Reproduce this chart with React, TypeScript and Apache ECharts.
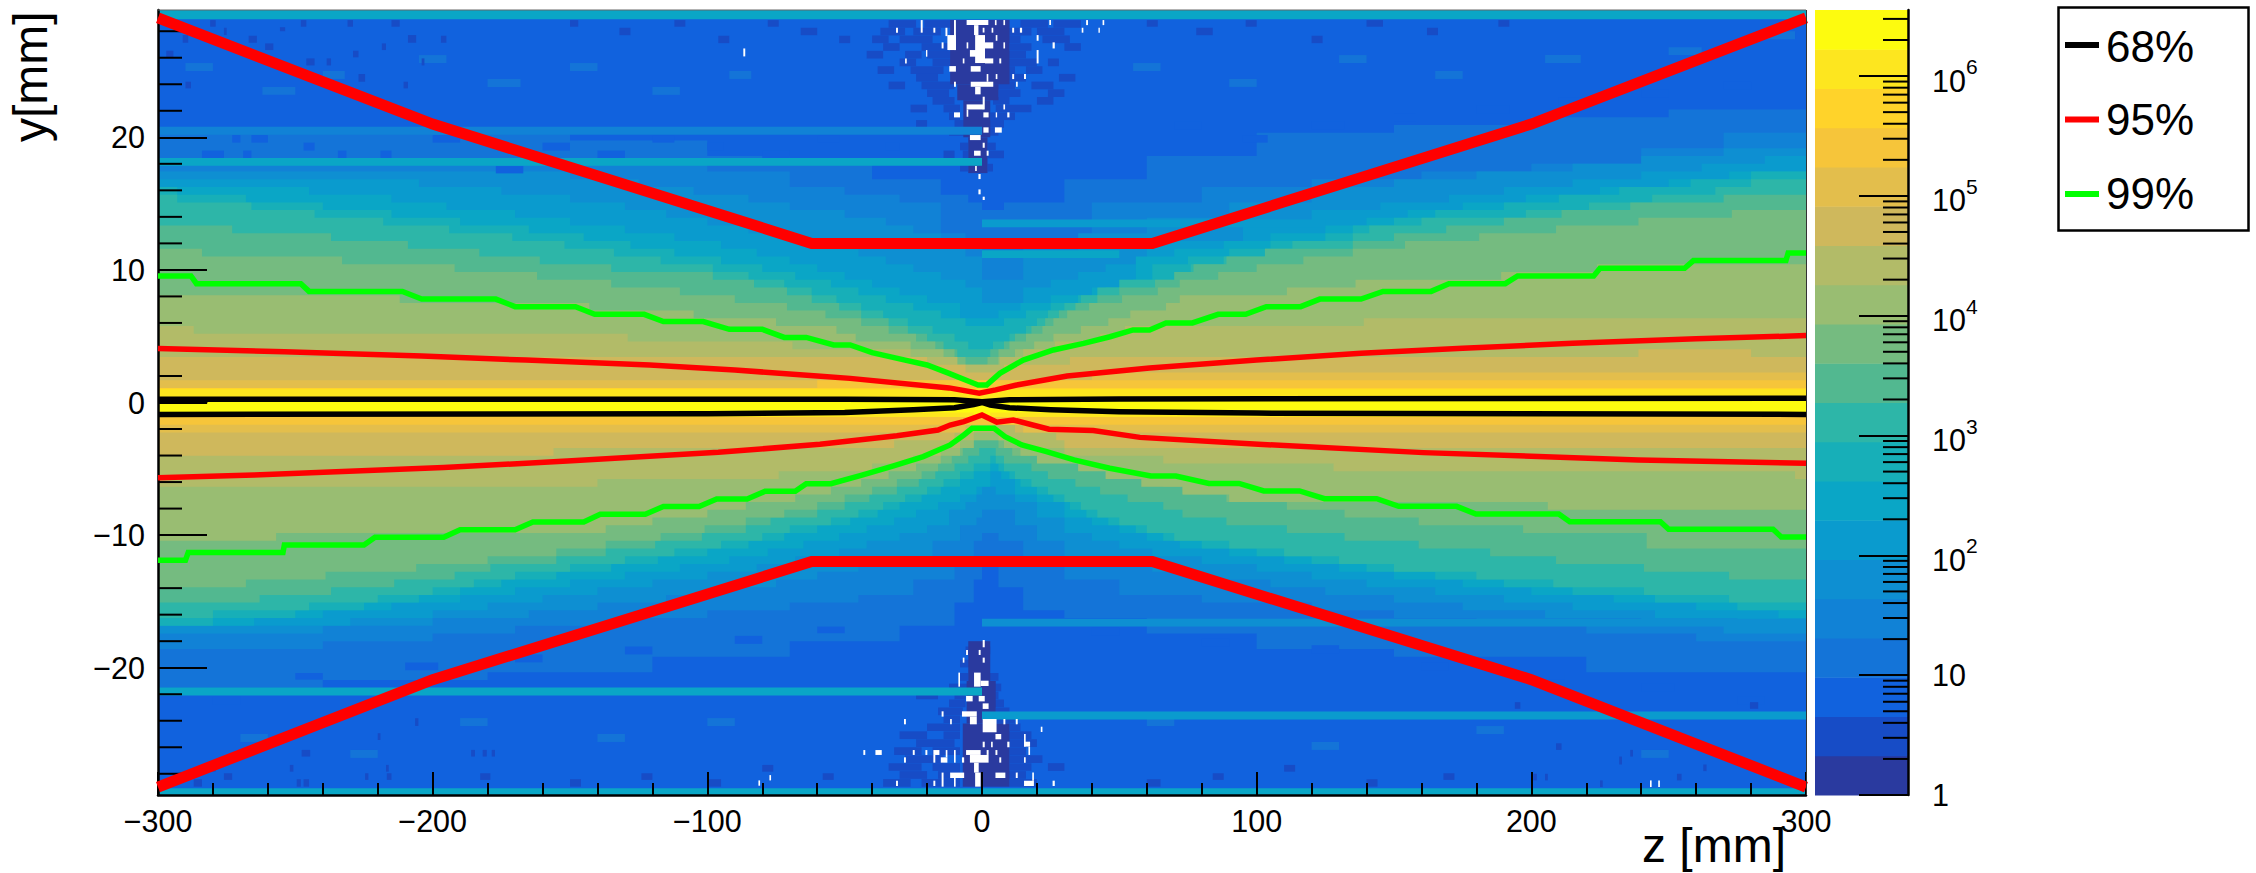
import React, { useEffect, useRef } from "react";
import * as echarts from "echarts";

// Histogram palette, colour bar from bottom (level 1) to top (level 20)
const palette = ["", "#2a3a9f", "#174cc6", "#1162de", "#1474d8", "#1182d6", "#0e8fd2", "#0a9bce", "#0aa6c6", "#17afb8", "#2db6a8",
  "#52b890", "#75bb80", "#99bd72", "#b2bb68", "#cfb85c", "#e3be4c", "#f6c53a", "#ffd32a", "#fde61f", "#fdfb0f"];
const zLimit = 300;
const yLimit = 29.6;
const colorMax = 3.56e6;

// Band outlines: [z where the step starts, bin row counted out from the beam line]
const up4: number[][] = [[-300,33],[-150,32],[-100,30],[-70,29],[-40,27],[-15,25],[-5,24],[0,23],[8,24],[30,27],[60,30],[100,33],[150,34],[200,35],[250,36],[300,38]];
const lo4: number[][] = [[-300,35],[-240,34],[-180,33],[-120,31],[-70,29],[-30,27],[-10,24],[-3,21],[0,19],[6,22],[15,25],[30,26],[60,28],[100,30],[150,31],[220,33],[300,36]];
const up5: number[][] = [[-300,29],[-100,28],[-70,26],[-50,25],[-30,24],[-15,20],[-6,19],[0,17],[5,17],[15,19],[40,24],[80,26],[120,27],[160,28],[200,29],[240,31],[270,33],[300,34]];
const lo5: number[][] = [[-300,30],[-240,29],[-200,28],[-170,27],[-130,26],[-100,25],[-70,24],[-45,23],[-25,21],[-10,19],[-3,16],[0,15],[6,16],[15,19],[30,21],[50,23],[80,24],[120,25],[150,26],[180,27],[220,28],[260,29],[300,30]];
const up6: number[][] = [[-300,28],[-150,27],[-125,26],[-105,25],[-85,24],[-70,23],[-50,22],[-35,21],[-25,20],[-15,18],[-6,17],[0,14],[4,14],[15,17],[35,20],[60,22],[90,24],[120,26],[150,27],[180,28],[215,29],[240,30],[270,31],[300,32]];
const lo6: number[][] = [[-300,28],[-240,27],[-200,26],[-165,25],[-140,24],[-115,23],[-95,22],[-75,21],[-60,20],[-45,19],[-30,18],[-18,16],[-8,14],[-2,13],[0,12],[5,12],[12,14],[20,16],[30,18],[45,19],[62,20],[80,21],[105,22],[125,23],[150,24],[175,25],[205,26],[240,27],[270,28]];
const up7: number[][] = [[-300,27],[-205,26],[-175,25],[-150,24],[-130,23],[-115,22],[-100,21],[-85,20],[-70,19],[-55,18],[-45,17],[-35,16],[-25,15],[-15,14],[-6,13],[0,11],[5,11],[15,13],[25,14],[35,15],[45,16],[60,19],[95,21],[120,23],[145,24],[170,25],[190,26],[215,27],[240,28],[262,29],[285,30]];
const lo7: number[][] = [[-300,27],[-230,26],[-200,25],[-180,24],[-160,23],[-140,22],[-120,21],[-100,20],[-82,19],[-68,18],[-52,17],[-42,16],[-30,15],[-20,14],[-12,12],[-6,11],[-2,10],[0,9],[5,10],[12,11],[20,13],[30,15],[40,16],[50,17],[62,18],[80,19],[100,20],[120,21],[140,22],[165,23],[190,24],[215,25],[245,26],[275,27]];
const up8: number[][] = [[-300,26],[-245,25],[-215,24],[-195,23],[-170,22],[-150,21],[-130,20],[-112,19],[-95,18],[-82,17],[-70,16],[-60,15],[-50,14],[-40,13],[-30,12],[-20,11],[-8,9],[6,10],[14,11],[25,12],[40,13],[50,14],[56,17],[70,18],[88,19],[105,20],[125,21],[140,22],[155,23],[175,24],[198,25],[225,26],[250,27],[272,28]];
const lo8: number[][] = [[-300,27],[-265,26],[-240,25],[-215,24],[-190,23],[-170,22],[-150,21],[-130,20],[-110,19],[-92,18],[-78,17],[-65,16],[-52,15],[-42,14],[-32,13],[-24,12],[-16,11],[-8,10],[-2,9],[3,7],[7,8],[12,10],[20,11],[30,13],[40,14],[50,15],[60,16],[72,17],[90,18],[110,19],[130,20],[150,21],[175,22],[200,23],[230,24],[260,25],[290,26]];
const up9: number[][] = [[-300,26],[-293,25],[-268,24],[-240,23],[-215,22],[-190,21],[-165,20],[-145,19],[-128,18],[-112,17],[-95,16],[-80,15],[-68,14],[-55,13],[-45,12],[-35,11],[-25,10],[-15,9],[-6,8],[8,9],[16,10],[25,11],[35,12],[45,13],[55,14],[62,16],[75,17],[90,18],[105,19],[125,20],[135,21],[150,22],[165,23],[190,24],[210,25],[232,26],[258,27],[280,28]];
const lo9: number[][] = [[-300,27],[-280,26],[-250,25],[-225,24],[-205,23],[-190,22],[-175,21],[-155,20],[-135,19],[-118,18],[-100,17],[-85,16],[-72,15],[-60,14],[-48,13],[-38,12],[-30,11],[-22,10],[-15,9],[-8,8],[-3,7],[3,6],[6,7],[10,8],[14,9],[20,10],[26,11],[32,12],[38,13],[46,14],[56,15],[66,16],[80,17],[100,18],[120,19],[140,20],[165,21],[190,22],[215,23],[245,24],[275,25]];
const up10: number[][] = [[-300,25],[-293,24],[-266,23],[-243,22],[-218,21],[-194,20],[-171,19],[-152,18],[-134,17],[-117,16],[-98,15],[-85,14],[-72,13],[-62,12],[-53,11],[-44,10],[-36,9],[-27,8],[-18,7],[-10,6],[-5,5],[4,6],[10,7],[16,8],[20,9],[24,10],[30,11],[36,12],[42,13],[50,14],[70,15],[76,16],[88,17],[103,18],[113,19],[135,20],[141,21],[160,22],[198,23],[221,24],[244,25],[267,26],[280,27]];
const lo10: number[][] = [[-300,26],[-280,25],[-245,24],[-220,23],[-200,22],[-185,21],[-170,20],[-150,19],[-130,18],[-112,17],[-95,16],[-80,15],[-70,14],[-55,13],[-45,12],[-36,11],[-28,10],[-20,9],[-14,8],[-8,7],[-3,6],[3,5],[5,6],[8,7],[12,8],[18,9],[24,10],[30,11],[36,12],[42,13],[50,14],[60,15],[70,16],[90,17],[110,18],[130,19],[150,20],[180,21],[208,22],[241,23],[272,24]];
const up11: number[][] = [[-300,21],[-273,20],[-237,19],[-209,18],[-183,17],[-161,16],[-135,15],[-98,14],[-83,13],[-71,12],[-62,11],[-52,10],[-44,9],[-34,8],[-27,7],[-20,6],[-14,5],[-9,4],[3,5],[8,6],[12,7],[18,8],[23,9],[28,10],[34,11],[42,12],[50,13],[63,14],[70,15],[77,16],[89,17],[103,18],[135,19],[150,20],[169,21],[190,22],[211,23],[236,24],[270,25]];
const lo11: number[][] = [[-300,24],[-263,23],[-237,22],[-214,21],[-192,20],[-179,19],[-155,18],[-137,17],[-119,16],[-102,15],[-86,14],[-77,13],[-60,12],[-50,11],[-41,10],[-31,9],[-23,8],[-17,7],[-10,6],[-5,5],[-1,4],[5,5],[8,6],[18,7],[24,8],[34,9],[43,10],[53,11],[66,12],[73,13],[89,14],[111,15],[132,16],[159,17],[185,18],[209,19],[241,20],[272,21]];
const up12: number[][] = [[-300,18],[-284,17],[-233,16],[-192,15],[-162,14],[-135,13],[-110,12],[-90,11],[-71,10],[-57,9],[-44,8],[-34,7],[-24,6],[-17,5],[-10,4],[-6,3],[2,4],[6,5],[10,6],[16,7],[22,8],[26,9],[31,10],[39,11],[51,12],[64,13],[72,14],[86,15],[100,16],[117,17],[135,18],[154,19],[181,20],[209,21],[239,22],[273,23]];
const lo12: number[][] = [[-300,22],[-268,21],[-239,20],[-206,19],[-180,18],[-155,17],[-137,16],[-117,15],[-101,14],[-86,13],[-72,12],[-60,11],[-50,10],[-40,9],[-31,8],[-22,7],[-16,6],[-11,5],[-7,4],[-3,3],[6,4],[11,5],[34,6],[45,7],[53,8],[66,9],[73,10],[89,11],[111,12],[132,13],[159,14],[197,15],[242,17]];
const up13: number[][] = [[-300,12],[-212,11],[-143,10],[-105,9],[-75,8],[-53,7],[-46,6],[-26,5],[-14,4],[-9,3],[6,4],[12,5],[19,6],[26,7],[36,8],[46,9],[54,10],[67,11],[72,12],[111,13],[136,14],[189,15],[224,16]];
const lo13: number[][] = [[-300,16],[-257,15],[-137,14],[-120,13],[-100,12],[-86,11],[-68,10],[-55,9],[-44,8],[-34,7],[-24,6],[-15,5],[-8,4],[-3,3],[8,4],[14,5],[20,6],[35,7],[45,8],[58,9],[73,10],[90,11],[206,12]];
const up14: number[][] = [[-300,8],[-287,7],[-129,6],[-69,5],[-26,4],[-9,3],[6.5,4],[15,5],[26.5,6],[43,7],[52,8],[139,9]];
const lo14: number[][] = [[-300,9],[-140,8],[-74,7],[-40,6],[-25,5],[-15,4],[-8,3],[-3,2],[6,3],[14,4],[30,5],[66,6],[128,7],[296,8]];
const up15: number[][] = [[-300,4],[-20,3],[-6,2],[8,3],[32,4],[239,5],[280,4]];
const lo15: number[][] = [[-300,5],[-156,4],[-32,3],[-10,2],[-3,1],[3,1],[12,2],[27,3],[30,4]];
const up16: number[][] = [[-300,1],[40,2]];
const lo16: number[][] = [[-300,2],[-20,2],[-6,1],[5,1],[15,2]];
const up17: number[][] = [[-300,0],[-60,1]];
const lo17: number[][] = [[-300,1]];
const up18: number[][] = [[-300,0]];
const lo18: number[][] = [[-300,0]];

// Single rows and patches: [z from, z to, y from, y to, colour level]
const streakRows: number[][] = [
  [-300, 300, 28.9, 29.6, 8], [-300, 300, -29.6, -29.1, 8], [-300, 0, 17.86, 18.44, 8], [-300, 0, 20.2, 20.8, 5],
  [-300, 0, -22.1, -21.5, 8], [0, 300, -23.9, -23.3, 7], [0, 300, -16.9, -16.3, 6], [0, 125, 13.21, 13.81, 7], [0, 50, 10.9, 11.48, 8],
];
const coreDark: number[][] = [
  [-11.6, 10, 24, 28.84, 1], [-9, 6, 22.8, 24, 1], [-6.8, 3, 20, 22.8, 1], [-5, 2, 17.3, 20, 1],
  [-7, 10, -28.97, -24.2, 1], [-5.6, 5, -24.2, -21, 1], [-5, 3, -21, -18, 1],
];
// Mottled rows around the central column: [row top y, z from, z to, z from, z to ...]
const mottleTop: number[][] = [
  [28.84,-34,-24,-21,-11,3,10,14,24,26,36],[28.26,-37,-28,-25,-15,8,18,20,30],[27.68,-40,-34,-30,-18,6,14,22,32],[27.1,-36,-30,-22,-12,10,18,30,36],
  [26.52,-42,-36,-28,-22,-20,-11,6,16],[25.94,-30,-24,-18,-11,8,20,24,28],[25.36,-38,-32,-26,-14,4,12,16,22],[24.78,-24,-16,6,16,28,34],
  [24.2,-34,-28,-22,-10,3,12,18,26],[23.62,-20,-12,6,14,24,30],[23.04,-18,-10,4,10,20,26],[22.46,-26,-20,-14,-8,5,18],
  [21.88,-12,-8,3,12],[21.3,-24,-20,-10,-6,2,8],[20.7,-12,-6,2,6],[19.6,-8,-5,2,5],[19,-14,-10,-7,-5,2,8],[18,-8,-5,2,4],
];
const mottleBottom: number[][] = [
  [-28.4,-36,-26,-22,-8,10,20],[-27.8,-30,-20,-16,-8,8,16],[-27.2,-34,-22,-18,-8,10,18,24,30],[-26.6,-28,-14,10,22],
  [-26,-32,-22,-18,-8,10,16],[-25.4,-24,-10,9,20],[-24.8,-30,-20,-14,-8,9,18],[-24.2,-20,-8,10,14],[-23.6,-14,-8,5,12],
  [-23,-16,-7,5,10],[-22.4,-12,-6,3,8],[-21.8,-24,-16,-10,-6,3,6],[-21.2,-12,-5,3,7],[-20.4,-8,-5,2,6],[-19.4,-8,-4],[-18.4,-6,-3,1,3],
];
const darkCells: number[][] = [
  [-281,-279,28.34,28.84], [-276,-275,27.71,28.26], [-267,-264,27.13,27.66], [-261,-258,26.58,27.08], [-255.6,-253.7,28,28.3], [-248,-246,28.34,28.84],
  [-231,-229,28.34,28.84], [-215,-212,28.34,28.84], [-246,-243,25.42,25.95], [-238.6,-237,25.42,25.95], [-229,-227,26.03,26.53], [-218.5,-217,26.58,27.08],
  [-204,-203,25.42,25.95], [-197,-195,27.13,27.66], [-209,-206,27.13,27.71], [-227,-224.6,24.19,24.77], [-210.6,-209,23.69,24.19], [-290,-288,23.69,24.19],
  [-291,-289,27.13,27.71], [-297,-294.4,26.03,26.53], [-276,-273,-28.46,-27.96], [-224.6,-223.4,-28.46,-27.96], [-216.7,-215,-28.46,-27.96], [-182.7,-179,-28.46,-27.96],
  [-281.7,-279,-27.84,-27.33], [-252,-250.7,-27.84,-27.33], [-217,-216,-27.84,-27.33], [-186,-184.6,-26.7,-26.2], [-181.8,-180.3,-26.7,-26.2], [-178.5,-177.3,-26.7,-26.2],
  [-247.7,-244.6,-26.7,-26.2], [-220,-219,-25.45,-24.94], [-206.4,-205.2,-24.39,-23.81], [-249.5,-248,-28.97,-28.41], [-247,-245,-28.97,-28.41], [-287,-284,-28.97,-28.41],
  [194,196,-23.1,-22.6], [279.6,282.6,-23.1,-22.6], [225,226,-29,-28.5], [253,254.7,-28.5,-28], [236,237,-26.7,-26.2], [232,233,-27.3,-26.7],
  [209,211,-26.2,-25.7], [205,206,-28.5,-28], [200.7,202,-28.5,-28], [262.6,263.8,-27.8,-27.3],
  [-150,-147,28.34,28.84], [-132,-128,27.7,28.26], [-112,-108,28.34,28.84], [-96,-92,27.1,27.66], [-78,-74,28.34,28.84], [-66,-60,27.7,28.26], [-52,-48,27.1,27.66],
  [60,64,28.34,28.84], [78,84,27.7,28.26], [96,100,28.34,28.84], [120,124,27.1,27.66], [140,146,28.34,28.84], [162,166,27.7,28.26], [188,192,28.34,28.84],
  [-150,-146,-28.97,-28.41], [-124,-120,-28.46,-27.96], [-100,-95,-28.97,-28.41], [-80,-76,-27.84,-27.33], [-58,-54,-28.46,-27.96], [60,65,-28.97,-28.41], [84,88,-28.46,-27.96], [110,114,-27.84,-27.33], [140,144,-28.97,-28.41], [168,172,-28.46,-27.96],
];
// Speckle: bins one level off the surrounding band
const speckle3: number[][] = [
  [-273,-270,19.6,20.17],[-266,-260,19.6,20.17],[-284,-276,18.44,19],[-269,-266,18.44,19],[-247,-243,19,19.6],[-234.5,-231.4,18.44,19],[-219,-215,18.44,19],[-177,-167,17.28,17.83],
  [-200,-190,19.6,20.17],[-160,-150,19,19.6],[-140,-130,18.44,19],[-120,-112,19.6,20.17],[-100,-94,19,19.6],[-80,-70,18.44,19],[-60,-52,19.6,20.17],[-35,-30,19,19.6],
  [70,80,20.6,21.2],[95,104,19.6,20.17],[120,132,20.6,21.2],[150,158,21.2,21.8],[180,192,21.8,22.4],[210,220,22.4,23],[240,250,23,23.6],[270,280,23.6,24.2],
  [-280,-270,-22.8,-22.2],[-250,-240,-20.9,-20.4],[-210,-198,-20.2,-19.6],[-170,-160,-19.6,-19],[-130,-120,-19,-18.4],[-90,-80,-18.2,-17.6],[-60,-50,-17.4,-16.9],
  [40,50,-17.6,-17],[80,90,-18.4,-17.8],[120,130,-18.9,-18.3],[160,170,-20.2,-19.6],[200,212,-20.9,-20.4],[240,252,-21.8,-21.2],[275,285,-22.8,-22.2],
];
const speckle4: number[][] = [
  [-290,-280,25,25.6],[-262,-250,23.2,23.8],[-240,-232,24.4,25],[-205,-195,25.6,26.2],[-180,-168,23.8,24.4],[-150,-140,25,25.6],[-120,-110,23.2,23.8],[-92,-84,24.4,25],
  [55,65,25,25.6],[90,100,23.8,24.4],[130,140,25.6,26.2],[165,175,24.4,25],[205,218,25.6,26.2],[250,262,26.2,26.8],[284,296,27.4,28],
  [-270,-260,-25.6,-25],[-230,-220,-26.8,-26.2],[-190,-180,-24.4,-23.8],[-140,-130,-25.6,-25],[-100,-90,-24.4,-23.8],[60,70,-24.4,-23.8],[120,130,-26.2,-25.6],[180,190,-25,-24.4],[240,250,-26.8,-26.2],
];
const whiteCells: number[][] = [
  [-22.3,-21.6,27.89,28.84],[-31.3,-30.6,27.89,28.26],[-17.7,-17,27.89,28.26],[-13.3,-12.6,27.63,28.26],[-10.2,-9.5,26.58,28.84],[-12.6,-9.5,26.58,27.71],[-14.7,-14,26.7,27.16],
  [-5.6,2.3,28.46,28.84],[-2.9,-1.3,27.71,28.46],[3.5,4.1,27.89,28.26],[4.7,5.3,28.46,28.84],[7.8,8.4,28.46,28.84],[0.25,0.9,27.9,28.26],[-2.5,1.1,25.6,27.71],[1.1,4.1,26.7,27.16],
  [-5.6,-5,26.7,27.16],[7.8,8.4,26.7,27.16],[5,5.6,27.28,27.71],[11,11.7,27.89,28.26],[13.8,14.6,27.89,28.26],[19.9,20.6,27.28,27.71],[25.7,26.5,26.7,27.16],[24.5,25.1,28.46,28.84],
  [37.9,38.6,28.46,28.84],[36.3,36.9,27.89,28.26],[42.4,42.9,27.89,28.26],[43.9,44.5,28.46,28.84],[-4.4,-0.5,26.08,26.58],[1.1,4.1,25.57,25.95],[6.3,7,25.57,25.95],[-7,-6.4,25.57,25.95],
  [19.9,20.6,25.57,26.58],[-20.4,-19.9,26.08,26.58],[-28,-27.4,25.57,25.95],[-11.9,-9.5,24.95,25.37],[-4.1,-0.5,24.95,25.37],[-10.2,-9.5,23.81,24.19],[-4.1,4.1,23.81,24.19],[-2.5,-0.5,23.24,23.81],
  [1.7,2.3,24.19,24.77],[5,5.6,24.39,24.77],[11,11.7,24.39,24.77],[15.3,16,24.39,24.77],[12.4,13,23.81,24.19],[0.25,1,22.1,23.06],[-5.6,0.5,22.1,22.48],[-5.6,-5,21.55,22.1],[-10.2,-8,21.5,21.88],
  [0.5,2.4,21.5,21.88],[5,5.5,21.5,21.88],[9.2,10,21.5,21.88],[7.8,8.4,22.1,22.48],[0.5,2.4,20.35,20.75],[4.7,7.2,20.35,20.75],[-4.4,-0.5,19.79,20.17],[0.25,1,19.21,19.59],[-2.9,-0.5,18.61,18.99],
  [1.7,2.4,18.61,18.99],[-2.5,-1.9,17.45,17.83],[-1.3,-0.5,16.85,17.23],[-1.3,-0.5,15.7,16.07],[0.25,1,15.27,15.52],[-86.9,-86.2,26.1,26.7],
  [-5.8,-5.1,-19.04,-18.66],[-1.2,-0.5,-19.04,-18.66],[-7,-6.4,-19.62,-19.24],[0.25,1,-19.62,-19.24],[0.25,1,-18.46,-17.91],[-8.6,-8,-21.43,-20.37],[-2.9,-0.5,-21.43,-20.37],[-0.5,2.4,-21.38,-20.98],
  [-5.8,-3.4,-22.54,-22.13],[-1.2,1,-22.54,-22.13],[0.25,2.4,-23.11,-22.69],[-14.7,-14,-23.69,-23.29],[-7.3,-1.9,-23.69,-23.29],[-4.4,-1.9,-24.27,-23.69],[-11.6,-11,-24.27,-23.87],[-28.4,-27.7,-24.27,-23.87],
  [0.25,5.3,-24.87,-23.87],[7.8,8.5,-24.27,-23.87],[12.3,13,-24.27,-23.87],[21.4,22,-24.85,-24.45],[4.9,7,-25.4,-25],[15.3,15.9,-25.95,-25],[15.3,17.5,-25.95,-25.58],[16.9,17.5,-26.58,-25.95],
  [0.25,1,-26,-25.58],[3.3,3.9,-26,-25.58],[9.2,10,-26,-25.58],[-43.2,-42.5,-26.58,-26.21],[-38.8,-36.5,-26.58,-26.21],[-25.2,-24.5,-26.58,-26.21],[-20.6,-19.9,-26.58,-26.21],[-17.7,-15.5,-26.58,-26.21],
  [-17.7,-17,-27.16,-26.58],[-15,-12.6,-27.16,-26.76],[-13.2,-12.6,-26.76,-26.21],[-10.2,-9.6,-27.16,-26.21],[-7.3,-6.5,-27.16,-26.76],[-5.8,-0.5,-26.58,-26.21],[-4.4,2.4,-27.16,-26.58],[1.7,2.4,-26.58,-26.21],
  [4.9,5.6,-26.58,-26.21],[6.3,7,-27.16,-26.76],[15.3,15.9,-27.16,-26.76],[-28.4,-27.7,-27.16,-26.76],[-2.9,-1.2,-27.91,-27.16],[-2.5,-0.5,-28.97,-27.91],[-14.7,-14,-28.97,-27.91],[-11.6,-6.5,-28.32,-27.91],
  [-10.2,-9.6,-28.97,-28.32],[4.9,8.5,-28.32,-27.91],[12.3,13,-28.32,-27.91],[15.3,18.9,-28.92,-28.52],[18.3,18.9,-28.52,-27.91],[-31.3,-30.6,-28.92,-28.52],[-17.7,-17,-28.92,-28.52],[25.7,26.5,-28.92,-28.52],
  [243.2,243.8,-29,-28.5],[246.2,246.8,-29,-28.5],[-77.4,-76.8,-28.5,-28.1],[-81.4,-80.8,-28.9,-28.5],
];
const corePatches: number[][] = [[-300, 300, -1.1, 1.0, 19], [-300, 300, -0.75, 0.3, 20], [-3, 3, -1.05, -0.2, 20]];
const blackStep: number[][] = [[-300, -282, -0.05, 0.35]];

// Contour lines
const red95Outer1: number[][] = [[-300,29],[-200,21],[-62,12],[62,12],[200,21],[300,29]];
const red95Outer2: number[][] = [[-300,-29],[-200,-20.9],[-62,-12],[62,-12],[200,-20.9],[300,-29]];
const red95Up: number[][] = [[-300,4.08],[-254,3.83],[-204,3.5],[-166,3.2],[-121,2.83],[-90,2.45],[-60,2.0],[-48,1.82],[-12,1.1],[-1,0.7],[5,0.95],[12.6,1.32],[31,2],[61,2.6],[100,3.2],[138,3.71],[175,4.1],[215,4.46],[260,4.8],[300,5.05]];
const red95Low: number[][] = [[-300,-5.67],[-265,-5.47],[-196,-4.91],[-151,-4.41],[-96,-3.76],[-59,-3.15],[-31,-2.5],[-16,-2.07],[-11.6,-1.7],[-6.6,-1.44],[0,-0.94],[5.4,-1.49],[11.4,-1.32],[24.4,-2.02],[40.5,-2.12],[57.5,-2.63],[100.6,-3.15],[160.7,-3.78],[239,-4.33],[300,-4.59]];
const greenUp: number[][] = [[-300,9.54],[-288,9.54],[-286,8.96],[-248,8.96],[-245,8.38],[-211,8.38],[-204,7.8],[-177,7.8],[-170,7.23],[-148,7.23],[-141,6.65],[-123,6.65],[-116,6.1],[-101.5,6.1],[-92,5.52],[-80,5.52],[-72,4.91],[-64,4.91],[-54,4.34],[-48,4.34],[-40,3.76],[-28,3.2],[-20,2.83],[-12,2.2],[-4.4,1.57],[-1.4,1.32],[1.7,1.32],[6.5,2.2],[15,3.2],[26,3.96],[37,4.46],[46.6,4.96],[55,5.47],[61,5.47],[67,6],[76.6,6],[86,6.65],[96,6.65],[103.5,7.23],[116,7.23],[123,7.8],[138,7.8],[146,8.38],[163.5,8.38],[170,8.96],[190.5,8.96],[195,9.54],[222.7,9.54],[225,10.12],[255.8,10.12],[259,10.7],[292.7,10.7],[293.5,11.27],[300,11.27]];
const greenLow: number[][] = [[-300,-11.9],[-290,-11.9],[-289,-11.32],[-254.5,-11.32],[-254,-10.75],[-225,-10.75],[-221,-10.17],[-196,-10.17],[-190,-9.59],[-170,-9.59],[-163.5,-9.01],[-145,-9.01],[-139,-8.43],[-122.6,-8.43],[-116,-7.85],[-103,-7.85],[-96.6,-7.28],[-85.5,-7.28],[-79,-6.7],[-68,-6.7],[-64,-6.12],[-55,-6.12],[-43.7,-5.47],[-32.5,-4.79],[-21.4,-4.08],[-11.6,-3.2],[-6.6,-2.45],[-3.6,-1.95],[4.4,-1.95],[8.4,-2.58],[14.5,-3.2],[23.5,-3.7],[33.5,-4.33],[46.5,-4.96],[61.5,-5.54],[70.6,-5.54],[82.6,-6.1],[93.6,-6.1],[102.6,-6.67],[115.6,-6.67],[124.7,-7.25],[143.7,-7.25],[151.7,-7.83],[172.8,-7.83],[179.8,-8.41],[210,-8.41],[214,-8.99],[247,-8.99],[250,-9.56],[288,-9.56],[291,-10.14],[300,-10.14]];
const black68Up: number[][] = [[-300,0.25],[-50,0.25],[-10,0.2],[0,0.05],[10,0.2],[50,0.27],[300,0.32]];
const black68Low: number[][] = [[-300,-0.9],[-100,-0.85],[-50,-0.75],[-25,-0.55],[-10,-0.4],[-3,-0.15],[0,0],[3,-0.2],[10,-0.4],[25,-0.55],[50,-0.7],[100,-0.8],[300,-0.9]];

// Axis ticks
const yMajor = [-20, -10, 0, 10, 20];
const yMinor = [-28, -26, -24, -22, -18, -16, -14, -12, -8, -6, -4, -2, 2, 4, 6, 8, 12, 14, 16, 18, 22, 24, 26, 28];
const cbMajor = [1, 10, 100, 1000, 10000, 100000, 1000000];
const cbMinor = [2,3,4,5,6,7,8,9,20,30,40,50,60,70,80,90,200,300,400,500,600,700,800,900,2e3,3e3,4e3,5e3,6e3,7e3,8e3,9e3,2e4,3e4,4e4,5e4,6e4,7e4,8e4,9e4,2e5,3e5,4e5,5e5,6e5,7e5,8e5,9e5,2e6,3e6];
const legendEntries = ["68%", "95%", "99%"];
const legendColors = ["#000000", "#ff0000", "#00ff00"];

const bands: [number, number[][], number[][]][] = [
  [4, up4, lo4], [5, up5, lo5], [6, up6, lo6], [7, up7, lo7], [8, up8, lo8], [9, up9, lo9], [10, up10, lo10], [11, up11, lo11],
  [12, up12, lo12], [13, up13, lo13], [14, up14, lo14], [15, up15, lo15], [16, up16, lo16], [17, up17, lo17], [18, up18, lo18],
];
const rowEdge = (k: number) => 1.1 + 0.583 * k;
const outline = (steps: number[][], sign: number) => {
  const pts: number[][] = [];
  steps.forEach((s, i) => {
    const end = i + 1 < steps.length ? steps[i + 1][0] : zLimit;
    pts.push([s[0], sign * rowEdge(s[1])], [end, sign * rowEdge(s[1])]);
  });
  return pts;
};
const bandPolys = bands.map(([level, up, lo]) => ({ level, pts: [...outline(up, 1), ...outline(lo, -1).reverse()] }));
const rowsToCells = (rows: number[][]) => rows.flatMap((r) => {
  const out: number[][] = [];
  for (let i = 1; i + 1 < r.length; i += 2) out.push([r[i], r[i + 1], r[0] - 0.58, r[0]]);
  return out;
});

const rectSeries = (name: string, cells: number[][], z: number, fixed?: string): any => ({
  type: "custom", name, z, silent: true, clip: true, data: cells,
  renderItem: (_: any, api: any) => {
    const a = api.coord([api.value(0), api.value(2)]);
    const b = api.coord([api.value(1), api.value(3)]);
    return {
      type: "rect",
      shape: { x: Math.min(a[0], b[0]), y: Math.min(a[1], b[1]), width: Math.abs(b[0] - a[0]), height: Math.abs(b[1] - a[1]) },
      style: { fill: fixed || palette[api.value(4)] },
    };
  },
});
const curve = (name: string, data: number[][], color: string, width: number): any => ({
  type: "line", name, data, showSymbol: false, symbol: "none", z: 6, silent: true, clip: true,
  lineStyle: { color, width, join: "miter", cap: "butt" },
});
const FONT = "Liberation Sans";

export default function App() {
  const ref = useRef<HTMLDivElement>(null);
  useEffect(() => {
    const chart = echarts.init(ref.current!, undefined, { renderer: "svg" });
    const minus = (v: number) => String(v).replace("-", "\u2212");
    chart.setOption({
      animation: false,
      backgroundColor: "#fff",
      grid: [
        { left: 158, top: 10, width: 1648, height: 785 },
        { left: 1815, top: 10, width: 93, height: 785 },
      ],
      xAxis: [
        { type: "value", gridIndex: 0, min: -zLimit, max: zLimit, interval: 100, z: 5, splitLine: { show: false },
          axisLine: { onZero: false, lineStyle: { color: "#000", width: 2.5 } },
          axisTick: { inside: true, length: 23, lineStyle: { color: "#000", width: 2 } },
          minorTick: { show: true, splitNumber: 5, length: 12, lineStyle: { color: "#000", width: 2 } },
          axisLabel: { margin: 10, fontSize: 30.5, color: "#000", fontFamily: FONT, formatter: minus, showMinLabel: true, showMaxLabel: true, hideOverlap: false } },
        { type: "value", gridIndex: 1, min: 0, max: 1, show: false },
      ],
      yAxis: [
        { type: "value", gridIndex: 0, min: -yLimit, max: yLimit, z: 5, splitLine: { show: false },
          axisLine: { show: true, onZero: false, lineStyle: { color: "#000", width: 2.5 } },
          axisTick: { inside: true, length: 49, customValues: yMajor, lineStyle: { color: "#000", width: 2 } },
          axisLabel: { margin: 13, fontSize: 30.5, color: "#000", fontFamily: FONT, customValues: yMajor, formatter: minus } },
        { type: "log", logBase: 10, gridIndex: 1, min: 1, max: colorMax, position: "right", z: 5, splitLine: { show: false },
          axisLine: { show: true, onZero: false, lineStyle: { color: "#000", width: 2.5 } },
          axisTick: { inside: true, length: 49, customValues: cbMajor, lineStyle: { color: "#000", width: 2 } },
          axisLabel: { margin: 24, color: "#000", fontFamily: FONT, fontSize: 30.5, align: "left", customValues: cbMajor,
            formatter: (v: number) => {
              const e = Math.round(Math.log10(v));
              return e === 0 ? "1" : e === 1 ? "10" : `{a|10}{b|${e}}`;
            },
            rich: { a: { fontSize: 30.5, fontFamily: FONT, color: "#000", lineHeight: 40, verticalAlign: "bottom", padding: [10, 0, 0, 0] },
                    b: { fontSize: 21, fontFamily: FONT, color: "#000", lineHeight: 40, verticalAlign: "top" } } } },
      ],
      series: [
        rectSeries("base", [[-zLimit, zLimit, -yLimit, yLimit, 3]], 1),
        rectSeries("speckle 4", speckle4, 1, palette[4]),
        { type: "custom", name: "bands", z: 2, silent: true, clip: true, data: bandPolys.map((_, i) => [i]),
          renderItem: (p: any, api: any) => {
            const b = bandPolys[p.dataIndex];
            return { type: "polygon", shape: { points: b.pts.map((q) => api.coord(q)) }, style: { fill: palette[b.level] } };
          } },
        rectSeries("speckle 3", speckle3, 3, palette[3]),
        rectSeries("mottle top", rowsToCells(mottleTop), 3, palette[2]),
        rectSeries("mottle bottom", rowsToCells(mottleBottom), 3, palette[2]),
        rectSeries("dark cells", darkCells, 3, palette[2]),
        rectSeries("core dark", coreDark, 3),
        rectSeries("streaks", streakRows, 3),
        rectSeries("white cells", whiteCells, 4, "#ffffff"),
        rectSeries("core", corePatches, 4),
        curve("99% a", greenUp, "#00ff00", 5.5),
        curve("99% b", greenLow, "#00ff00", 5.5),
        curve("95% a", red95Up, "#ff0000", 5.5),
        curve("95% b", red95Low, "#ff0000", 5.5),
        curve("95% c", red95Outer1, "#ff0000", 11),
        curve("95% d", red95Outer2, "#ff0000", 11),
        curve("68% a", black68Up, "#000000", 5.5),
        curve("68% b", black68Low, "#000000", 5.5),
        rectSeries("68% step", blackStep, 6, "#000000"),
        { type: "custom", name: "y minor ticks", z: 5, silent: true, clip: false, data: yMinor.map((v) => [-zLimit, v]),
          renderItem: (_: any, api: any) => {
            const p = api.coord([api.value(0), api.value(1)]);
            return { type: "line", shape: { x1: p[0], y1: p[1], x2: p[0] + 24, y2: p[1] }, style: { stroke: "#000", lineWidth: 2 } };
          } },
        { type: "custom", name: "colour bar", xAxisIndex: 1, yAxisIndex: 1, z: 1, silent: true,
          data: palette.slice(1).map((_, i) => [i]),
          renderItem: (p: any, api: any) => {
            const i = p.dataIndex;
            const t = Math.log10(colorMax) / 20;
            const a = api.coord([0, Math.pow(10, i * t)]);
            const b = api.coord([1, Math.pow(10, (i + 1) * t)]);
            return { type: "rect", shape: { x: a[0], y: b[1], width: b[0] - a[0], height: a[1] - b[1] + 0.5 }, style: { fill: palette[i + 1] } };
          } },
        { type: "custom", name: "colour bar minor ticks", xAxisIndex: 1, yAxisIndex: 1, z: 5, silent: true, clip: false,
          data: cbMinor.map((v) => [1, v]),
          renderItem: (_: any, api: any) => {
            const p = api.coord([api.value(0), api.value(1)]);
            return { type: "line", shape: { x1: p[0] - 25, y1: p[1], x2: p[0], y2: p[1] }, style: { stroke: "#000", lineWidth: 2 } };
          } },
      ],
      graphic: [
        { type: "line", z: 20, shape: { x1: 158, y1: 10, x2: 1806, y2: 10 }, style: { stroke: "#666", lineWidth: 1 } },
        { type: "line", z: 20, shape: { x1: 1806.5, y1: 10, x2: 1806.5, y2: 795 }, style: { stroke: "#333", lineWidth: 1 } },
        { type: "text", z: 20, x: 1642, y: 869, style: { text: "z [mm]", font: `48px "${FONT}"`, fill: "#000", textVerticalAlign: "bottom" } },
        { type: "text", z: 20, x: 54, y: 142, rotation: Math.PI / 2, style: { text: "y[mm]", font: `48px "${FONT}"`, fill: "#000", textVerticalAlign: "bottom" } },
        { type: "rect", z: 20, shape: { x: 2058.5, y: 7.5, width: 190, height: 223 }, style: { fill: "#fff", stroke: "#000", lineWidth: 2.5 } },
        ...legendEntries.flatMap((t, i) => [
          { type: "line", z: 21, shape: { x1: 2065, y1: 45 + i * 74.5, x2: 2099, y2: 45 + i * 74.5 }, style: { stroke: legendColors[i], lineWidth: 6 } },
          { type: "text", z: 21, x: 2106, y: 46 + i * 73.5, style: { text: t, font: `44px "${FONT}"`, fill: "#000", textVerticalAlign: "middle" } },
        ]),
      ],
    });
    return () => chart.dispose();
  }, []);
  return <div ref={ref} style={{ position: "absolute", left: 0, top: 0, width: 2256, height: 873 }} />;
}
